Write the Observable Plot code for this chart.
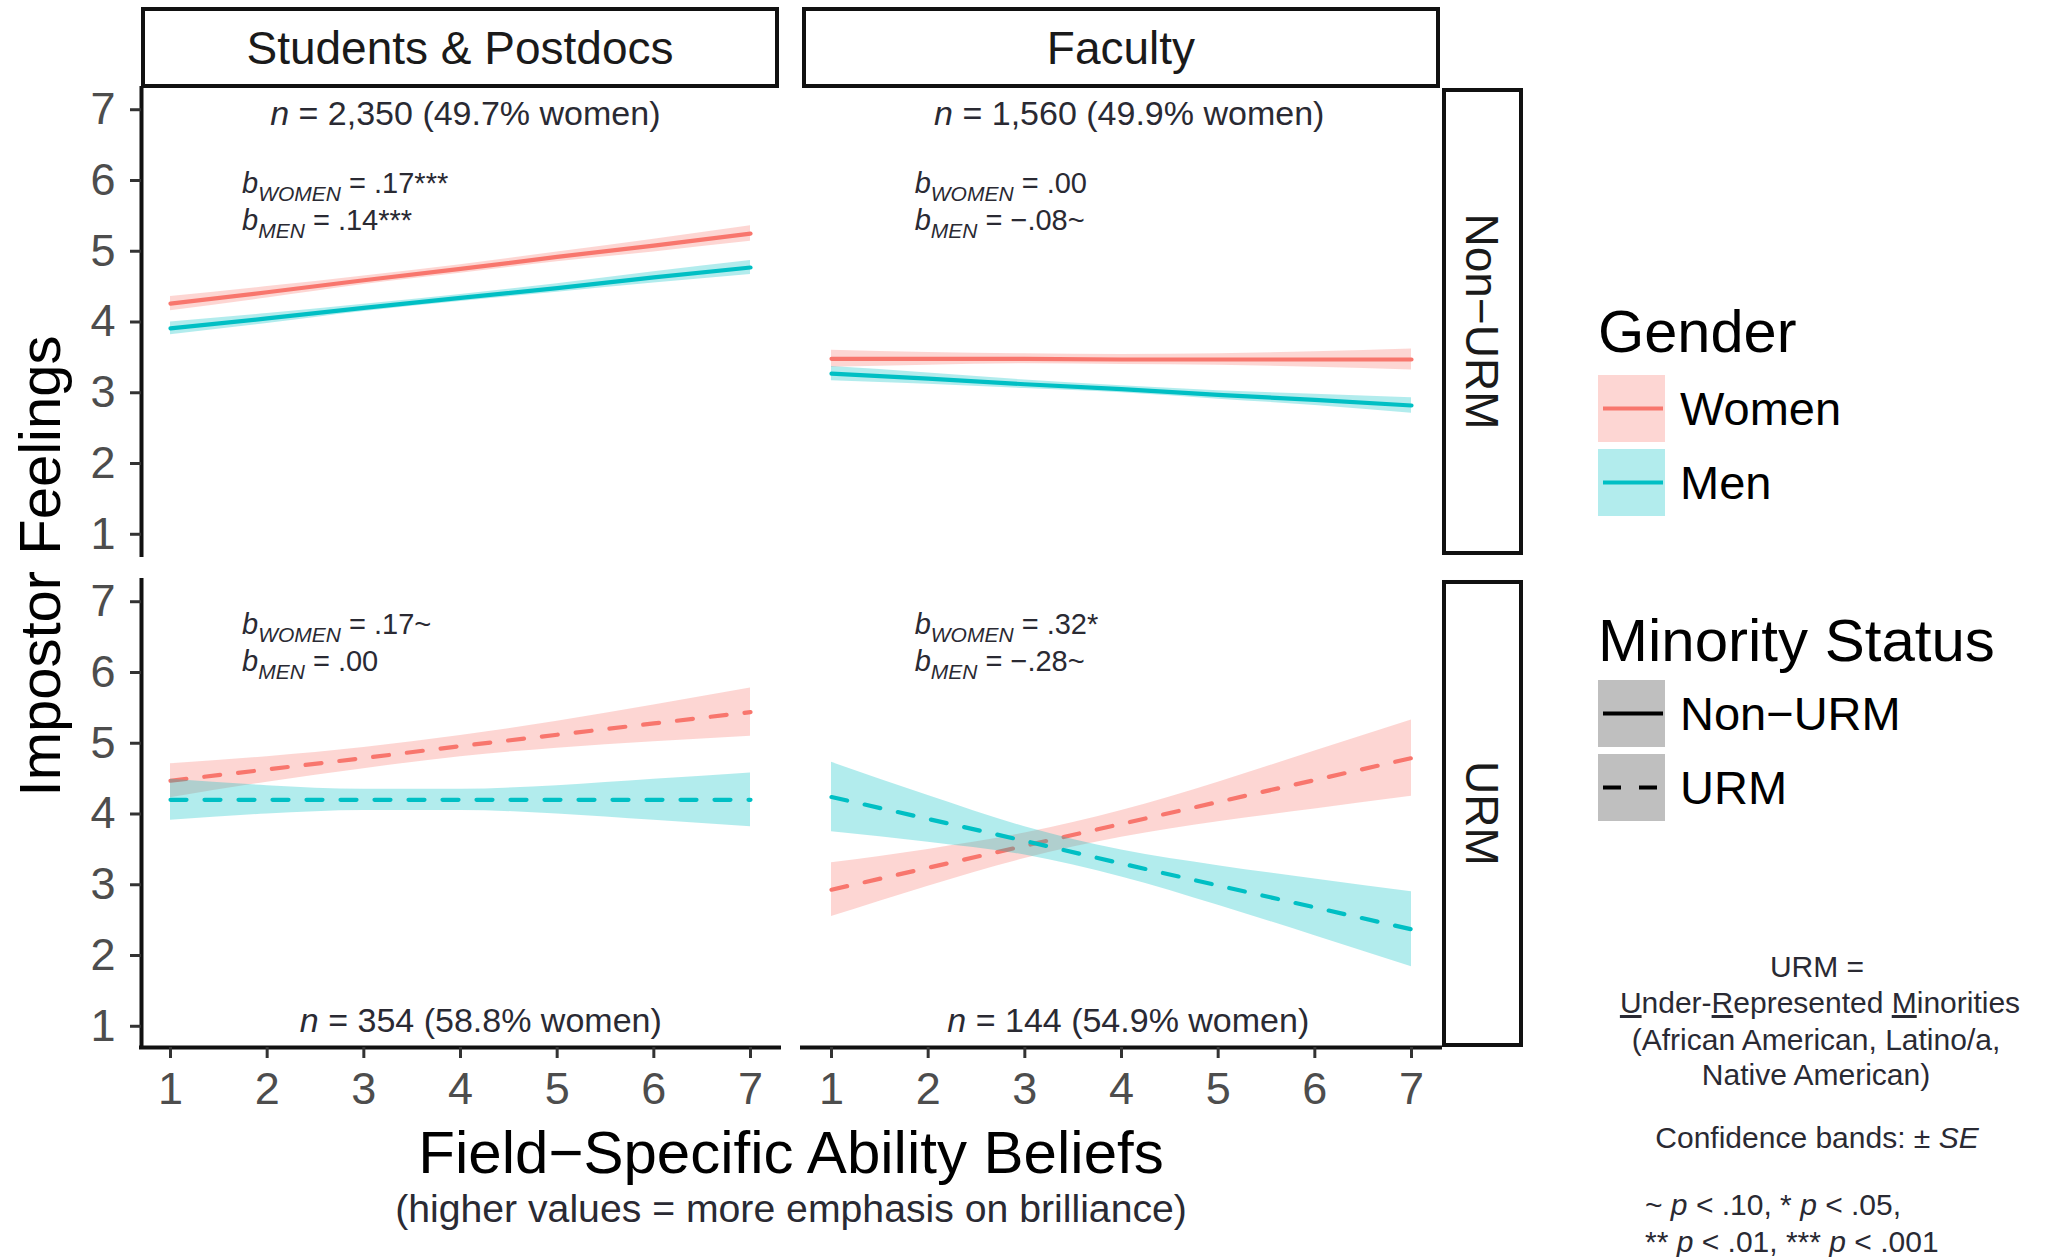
<!DOCTYPE html>
<html>
<head>
<meta charset="utf-8">
<script src="https://cdn.jsdelivr.net/npm/d3@7"></script>
<script src="https://cdn.jsdelivr.net/npm/@observablehq/plot@0.6"></script>
<style>
html, body { margin:0; padding:0; background:#fff; }
#wrap { position:relative; width:2051px; height:1257px; overflow:hidden; background:#fff; }
#plot { position:absolute; left:0; top:0; }
#overlay { position:absolute; left:0; top:0; pointer-events:none; }
[aria-label="x-axis tick label"], [aria-label="y-axis tick label"] { fill:#4d4d4d; }
</style>
</head>
<body>
<div id="wrap"><div id="plot"></div></div>
<script>
// ---------------- data ----------------
const roles = ["Students & Postdocs", "Faculty"];
const statuses = ["Non\u2212URM", "URM"];
const genders = ["Women", "Men"];
const abilityX = [1, 2, 3, 4, 5, 6, 7];
const xTicks = [1, 2, 3, 4, 5, 6, 7];
const yTicks = [1, 2, 3, 4, 5, 6, 7];
const axisDomain = [0.7, 7.3];

// Students & Postdocs, Non-URM
const stuNonWomenFit = [4.26, 4.42, 4.59, 4.75, 4.92, 5.08, 5.25];
const stuNonWomenSE  = [0.10, 0.08, 0.06, 0.06, 0.07, 0.09, 0.11];
const stuNonMenFit   = [3.91, 4.05, 4.20, 4.34, 4.48, 4.63, 4.77];
const stuNonMenSE    = [0.09, 0.07, 0.05, 0.05, 0.06, 0.08, 0.10];
// Faculty, Non-URM
const facNonWomenFit = [3.48, 3.48, 3.48, 3.47, 3.47, 3.47, 3.47];
const facNonWomenSE  = [0.12, 0.09, 0.07, 0.07, 0.08, 0.11, 0.15];
const facNonMenFit   = [3.27, 3.20, 3.12, 3.05, 2.97, 2.90, 2.82];
const facNonMenSE    = [0.10, 0.08, 0.06, 0.05, 0.06, 0.08, 0.11];
// Students & Postdocs, URM
const stuUrmWomenFit = [4.47, 4.63, 4.79, 4.96, 5.12, 5.28, 5.44];
const stuUrmWomenSE  = [0.24, 0.18, 0.15, 0.15, 0.19, 0.26, 0.34];
const stuUrmMenFit   = [4.20, 4.20, 4.20, 4.20, 4.20, 4.20, 4.20];
const stuUrmMenSE    = [0.29, 0.20, 0.15, 0.15, 0.20, 0.29, 0.38];
// Faculty, URM
const facUrmWomenFit = [2.93, 3.24, 3.55, 3.86, 4.17, 4.48, 4.79];
const facUrmWomenSE  = [0.38, 0.26, 0.18, 0.19, 0.28, 0.41, 0.54];
const facUrmMenFit   = [4.24, 3.93, 3.62, 3.30, 2.99, 2.68, 2.37];
const facUrmMenSE    = [0.49, 0.33, 0.20, 0.19, 0.28, 0.40, 0.53];

// panel annotations (order: Stu/Non, Fac/Non, Stu/URM, Fac/URM)
const panelRole   = [roles[0], roles[1], roles[0], roles[1]];
const panelStatus = [statuses[0], statuses[0], statuses[1], statuses[1]];
const sampleN     = ["2,350", "1,560", "354", "144"];
const samplePctW  = ["49.7", "49.9", "58.8", "54.9"];
const slopeWomen  = [".17***", ".00", ".17~", ".32*"];
const slopeMen    = [".14***", "\u2212.08~", ".00", "\u2212.28~"];

// annotation placement (data coordinates)
const sampleLabelX = [4.05, 4.08, 4.21, 4.07];
const slopeLabelX  = [1.74, 1.86, 1.74, 1.86];
const slopeLabelYW = [5.955, 5.955, 6.68, 6.68];
const slopeLabelYM = [5.43, 5.43, 6.15, 6.15];

// ---------------- build tables ----------------
const series = [
  [roles[0], statuses[0], "Women", stuNonWomenFit, stuNonWomenSE],
  [roles[0], statuses[0], "Men",   stuNonMenFit,   stuNonMenSE],
  [roles[1], statuses[0], "Women", facNonWomenFit, facNonWomenSE],
  [roles[1], statuses[0], "Men",   facNonMenFit,   facNonMenSE],
  [roles[0], statuses[1], "Women", stuUrmWomenFit, stuUrmWomenSE],
  [roles[0], statuses[1], "Men",   stuUrmMenFit,   stuUrmMenSE],
  [roles[1], statuses[1], "Women", facUrmWomenFit, facUrmWomenSE],
  [roles[1], statuses[1], "Men",   facUrmMenFit,   facUrmMenSE]
];
const rows = series.flatMap(([role, status, gender, fit, se]) =>
  abilityX.map((x, i) => ({role, status, gender, x, fit: fit[i], lo: fit[i] - se[i], hi: fit[i] + se[i]})));

const panels = panelRole.map((role, i) => ({
  role, status: panelStatus[i], n: sampleN[i], pct: samplePctW[i],
  sx: sampleLabelX[i], bx: slopeLabelX[i], byW: slopeLabelYW[i], byM: slopeLabelYM[i],
  bw: slopeWomen[i], bm: slopeMen[i]
}));

const FONT = '"Liberation Sans", Arial, Helvetica, sans-serif';
const TXT = "#2a2a33";
const colors = ["#F8766D", "#00BFC4"];

const marks = [];
for (const g of genders) {
  const d = rows.filter(r => r.gender === g);
  marks.push(Plot.areaY(d, {x: "x", y1: "lo", y2: "hi", fill: "gender", fillOpacity: 0.3, fx: "role", fy: "status", curve: "monotone-x"}));
  marks.push(Plot.lineY(d.filter(r => r.status === statuses[0]), {x: "x", y: "fit", stroke: "gender", strokeWidth: 4.2, fx: "role", fy: "status"}));
  marks.push(Plot.lineY(d.filter(r => r.status === statuses[1]), {x: "x", y: "fit", stroke: "gender", strokeWidth: 4.2, strokeDasharray: "16,18", fx: "role", fy: "status"}));
}

const plot = Plot.plot({
  width: 1450,
  height: 1257,
  marginLeft: 141,
  marginRight: 10,
  marginTop: 88,
  marginBottom: 210,
  style: {fontFamily: FONT, background: "transparent"},
  x: {domain: axisDomain},
  y: {domain: axisDomain},
  fx: {domain: roles, axis: null, paddingInner: 0.0348, paddingOuter: 0, round: false},
  fy: {domain: statuses, axis: null, paddingInner: 0.0508, paddingOuter: 0, round: false},
  color: {domain: genders, range: colors},
  marks: [
    ...marks,
    Plot.ruleX(statuses.map(s => ({role: roles[0], status: s})), {x: () => axisDomain[0], fx: "role", fy: "status", stroke: "#111", strokeWidth: 4, strokeLinecap: "square"}),
    Plot.ruleY(roles.map(r => ({role: r, status: statuses[1]})), {y: () => axisDomain[0], fx: "role", fy: "status", stroke: "#111", strokeWidth: 4, strokeLinecap: "square"}),
    Plot.axisX(xTicks, {tickSize: 11, tickPadding: 14, fontSize: 45, strokeWidth: 3, stroke: "#333", label: null, tickFormat: d => String(d)}),
    Plot.axisY(yTicks, {tickSize: 11, tickPadding: 15, fontSize: 45, strokeWidth: 3, stroke: "#333", label: null, tickFormat: d => String(d)}),
    Plot.text(panels.filter(p => p.status === statuses[0]), {x: "sx", fx: "role", fy: "status", frameAnchor: "top", lineAnchor: "middle", dy: 26, text: p => `n = ${p.n} (${p.pct}% women)`, fontSize: 34, fill: TXT}),
    Plot.text(panels.filter(p => p.status === statuses[1]), {x: "sx", fx: "role", fy: "status", frameAnchor: "bottom", lineAnchor: "middle", dy: -26, text: p => `n = ${p.n} (${p.pct}% women)`, fontSize: 34, fill: TXT}),
    Plot.text(panels, {x: "bx", y: "byW", fx: "role", fy: "status", textAnchor: "start", lineAnchor: "middle", text: p => `b_WOMEN = ${p.bw}`, fontSize: 29, fill: TXT}),
    Plot.text(panels, {x: "bx", y: "byM", fx: "role", fy: "status", textAnchor: "start", lineAnchor: "middle", text: p => `b_MEN = ${p.bm}`, fontSize: 29, fill: TXT})
  ]
});
document.getElementById("plot").append(plot);

// italic n / b with subscripts
const NS = "http://www.w3.org/2000/svg";
function tspan(txt, attrs) {
  const t = document.createElementNS(NS, "tspan");
  for (const k in attrs) t.setAttribute(k, attrs[k]);
  t.textContent = txt;
  return t;
}
plot.querySelectorAll("text").forEach(t => {
  const s = t.textContent;
  if (s.startsWith("n = ")) {
    t.textContent = "";
    t.append(tspan("n", {"font-style": "italic"}), document.createTextNode(s.slice(1)));
  } else if (s.startsWith("b_")) {
    const m = s.match(/^b_([A-Z]+)(.*)$/);
    t.textContent = "";
    t.append(tspan("b", {"font-style": "italic"}),
             tspan(m[1], {"font-style": "italic", "font-size": 21, dy: 8}),
             tspan(m[2], {dy: -8}));
  }
});

// ---------------- overlay: strips, titles, legend, notes ----------------
const fxS = plot.scale("fx"), fyS = plot.scale("fy");
const ov = d3.select("#wrap").append("svg").attr("id", "overlay")
  .attr("width", 2051).attr("height", 1257).style("font-family", FONT);

roles.forEach(r => {
  const x0 = fxS.apply(r), bw = fxS.bandwidth;
  ov.append("rect").attr("x", x0 + 2).attr("y", 9).attr("width", bw - 4).attr("height", 77)
    .attr("fill", "#fff").attr("stroke", "#111").attr("stroke-width", 4);
  ov.append("text").attr("x", x0 + bw / 2).attr("y", 47.5).attr("dy", "0.35em")
    .attr("text-anchor", "middle").attr("font-size", 46).attr("fill", "#1a1a1a").text(r);
});
statuses.forEach(s => {
  const y0 = fyS.apply(s), bw = fyS.bandwidth;
  ov.append("rect").attr("x", 1444).attr("y", y0 + 2).attr("width", 77).attr("height", bw - 4)
    .attr("fill", "#fff").attr("stroke", "#111").attr("stroke-width", 4);
  ov.append("text").attr("transform", `translate(1482.5,${y0 + bw / 2}) rotate(90)`).attr("dy", "0.35em")
    .attr("text-anchor", "middle").attr("font-size", 46).attr("fill", "#1a1a1a").text(s);
});

// axis titles
ov.append("text").attr("transform", "translate(60,566) rotate(-90)").attr("text-anchor", "middle")
  .attr("font-size", 58).attr("fill", "#000").text("Impostor Feelings");
ov.append("text").attr("x", 791).attr("y", 1173).attr("text-anchor", "middle")
  .attr("font-size", 60).attr("fill", "#000").text("Field\u2212Specific Ability Beliefs");
ov.append("text").attr("x", 791).attr("y", 1222).attr("text-anchor", "middle")
  .attr("font-size", 39.2).attr("fill", TXT).text("(higher values = more emphasis on brilliance)");

// legend: Gender
ov.append("text").attr("x", 1598).attr("y", 352).attr("font-size", 59.5).attr("fill", "#000").text("Gender");
const genderKeyY = [375, 449];
genders.forEach((g, i) => {
  const y = genderKeyY[i];
  ov.append("rect").attr("x", 1598).attr("y", y).attr("width", 67).attr("height", 67)
    .attr("fill", colors[i]).attr("fill-opacity", 0.3);
  ov.append("line").attr("x1", 1603).attr("x2", 1663).attr("y1", y + 33.5).attr("y2", y + 33.5)
    .attr("stroke", colors[i]).attr("stroke-width", 4);
  ov.append("text").attr("x", 1680).attr("y", y + 50).attr("font-size", 47).attr("fill", "#000").text(g);
});
// legend: Minority Status
ov.append("text").attr("x", 1598).attr("y", 661).attr("font-size", 60).attr("fill", "#000").text("Minority Status");
const statusKeyY = [680, 754];
statuses.forEach((s, i) => {
  const y = statusKeyY[i];
  ov.append("rect").attr("x", 1598).attr("y", y).attr("width", 67).attr("height", 67).attr("fill", "#bfbfbf");
  ov.append("line").attr("x1", 1603).attr("x2", 1663).attr("y1", y + 33.5).attr("y2", y + 33.5)
    .attr("stroke", "#000").attr("stroke-width", 4).attr("stroke-dasharray", i ? "18,18" : null);
  ov.append("text").attr("x", 1680).attr("y", y + 50).attr("font-size", 47).attr("fill", "#000").text(s);
});

// notes
const note = (y, anchor, x) => ov.append("text").attr("x", x).attr("y", y).attr("text-anchor", anchor)
  .attr("font-size", 30).attr("fill", TXT);
note(977, "middle", 1817).text("URM =");
const u = note(1013, "middle", 1820);
u.append("tspan").attr("text-decoration", "underline").text("U");
u.append("tspan").text("nder-");
u.append("tspan").attr("text-decoration", "underline").text("R");
u.append("tspan").text("epresented ");
u.append("tspan").attr("text-decoration", "underline").text("M");
u.append("tspan").text("inorities");
note(1050, "middle", 1816).text("(African American, Latino/a,");
note(1085, "middle", 1816).text("Native American)");
const cb = note(1148, "middle", 1817);
cb.append("tspan").text("Confidence bands: \u00b1 ");
cb.append("tspan").attr("font-style", "italic").text("SE");
const p1 = note(1215, "start", 1645);
p1.append("tspan").text("~ ");
p1.append("tspan").attr("font-style", "italic").text("p");
p1.append("tspan").text(" < .10, * ");
p1.append("tspan").attr("font-style", "italic").text("p");
p1.append("tspan").text(" < .05,");
const p2 = note(1252, "start", 1645);
p2.append("tspan").text("** ");
p2.append("tspan").attr("font-style", "italic").text("p");
p2.append("tspan").text(" < .01, *** ");
p2.append("tspan").attr("font-style", "italic").text("p");
p2.append("tspan").text(" < .001");
</script>
</body>
</html>
